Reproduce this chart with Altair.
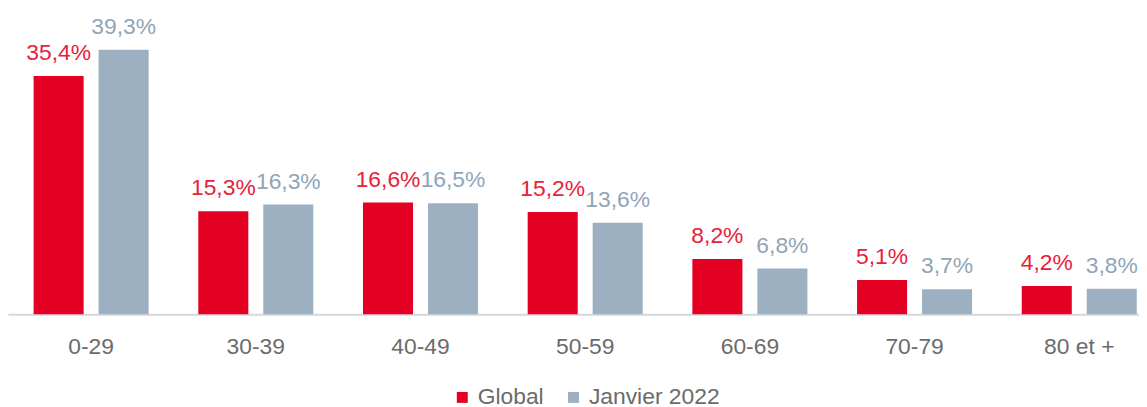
import altair as alt
import pandas as pd

categories = ["0-29", "30-39", "40-49", "50-59", "60-69", "70-79", "80 et +"]
series_names = ["Global", "Janvier 2022"]
global_vals = [35.4, 15.3, 16.6, 15.2, 8.2, 5.1, 4.2]
janvier_vals = [39.3, 16.3, 16.5, 13.6, 6.8, 3.7, 3.8]

colors = ["#E30022", "#9CB0C1"]
label_colors = ["#E8213A", "#8FA5B8"]

rows = []
for s, vals in zip(series_names, [global_vals, janvier_vals]):
    for c, v in zip(categories, vals):
        rows.append({"cat": c, "series": s, "value": v,
                     "label": f"{v:.1f}".replace(".", ",") + "%"})
df = pd.DataFrame(rows)

FONT = "Liberation Sans"

x = alt.X("cat:N", sort=categories, title=None,
          scale=alt.Scale(paddingInner=0.3016, paddingOuter=0.0845, align=0.92, round=False),
          axis=alt.Axis(labelAngle=0, ticks=False, grid=False, domainColor="#D3D9DE",
                        domainWidth=2, labelFont=FONT, labelFontSize=23,
                        labelColor="#6B6B6B", labelPadding=22))
xoff = alt.XOffset("series:N", sort=series_names,
                   scale=alt.Scale(domain=series_names, paddingInner=0.23, paddingOuter=0,
                                   round=False))
y = alt.Y("value:Q", scale=alt.Scale(domain=[0, 40]), axis=None)

bars = alt.Chart(df).mark_bar().encode(
    x=x, xOffset=xoff, y=y,
    color=alt.Color("series:N", scale=alt.Scale(domain=series_names, range=colors),
                    title=None,
                    legend=alt.Legend(orient="none", legendX=446, legendY=343,
                                      direction="horizontal", symbolType="square",
                                      symbolSize=121, symbolStrokeWidth=0,
                                      labelFont=FONT, labelFontSize=23,
                                      labelColor="#6B6B6B", labelOffset=4,
                                      columnPadding=18)),
)

texts = alt.Chart(df).mark_text(font=FONT, fontSize=23, baseline="alphabetic", dy=-16).encode(
    x=x, xOffset=xoff, y=y,
    text="label:N",
    color=alt.Color("series:N", scale=alt.Scale(domain=series_names, range=label_colors),
                    legend=None),
)

chart = alt.layer(bars, texts).resolve_scale(color="independent").properties(
    width=1139, height=271,
    autosize=alt.AutoSizeParams(type="none"),
    padding={"left": 0, "top": 36, "right": 0, "bottom": 92},
).configure_view(stroke=None)

chart.save("out.html", embed_options={"renderer": "svg", "actions": False})
